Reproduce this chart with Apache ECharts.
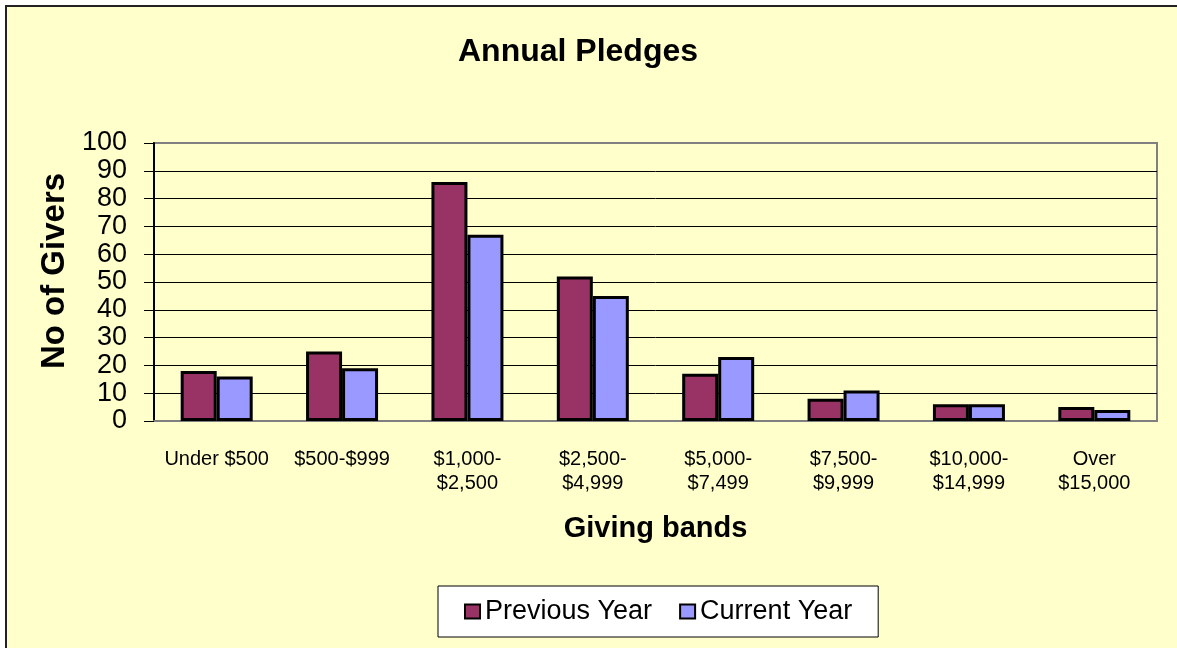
<!DOCTYPE html>
<html>
<head>
<meta charset="utf-8">
<script src="https://cdn.jsdelivr.net/npm/echarts@6/dist/echarts.min.js"></script>
<style>
  html, body { margin: 0; padding: 0; background: #fff; }
  #chart { width: 1177px; height: 648px; }
</style>
</head>
<body>
<div id="chart"></div>
<script>
const bands = ['Under $500', '$500-$999', '$1,000-\n$2,500', '$2,500-\n$4,999', '$5,000-\n$7,499',
  '$7,500-\n$9,999', '$10,000-\n$14,999', 'Over\n$15,000']
const previousYear = [18, 25, 86, 52, 17, 8, 6, 5]
const currentYear = [16, 19, 67, 45, 23, 11, 6, 4]
const yTicks = { min: 0, max: 100, step: 10 }

const font = '"Liberation Sans", Arial, sans-serif'

const chart = echarts.init(document.getElementById('chart'))

const option = {
  backgroundColor: '#fff',
  animation: false,
  textStyle: { fontFamily: font, color: '#000' },
  graphic: [
    {
      type: 'rect',
      z: -10,
      shape: { x: 6, y: 6, width: 1300, height: 800 },
      style: { fill: '#FFFFCC' }
    },
    {
      type: 'polyline',
      z: -9,
      shape: { points: [[6, 800], [6, 6], [1300, 6]] },
      style: { stroke: '#222', lineWidth: 2, fill: null }
    }
  ],
  title: {
    text: 'Annual Pledges',
    left: 453,
    top: 31,
    textStyle: { fontFamily: font, fontSize: 32, fontWeight: 'bold', color: '#000' }
  },
  legend: {
    left: 438,
    top: 586,
    padding: [12, 26],
    itemGap: 27,
    itemWidth: 15,
    itemHeight: 14,
    icon: 'rect',
    backgroundColor: '#fff',
    borderColor: '#000',
    borderWidth: 1,
    itemStyle: { borderColor: '#000', borderWidth: 2 },
    textStyle: { fontFamily: font, fontSize: 27, color: '#000' }
  },
  grid: {
    left: 154,
    right: 20,
    top: 143,
    bottom: 227,
    show: true,
    backgroundColor: '#FFFFCC',
    borderColor: '#808080',
    borderWidth: 2
  },
  xAxis: {
    type: 'category',
    data: bands,
    name: 'Giving bands',
    nameLocation: 'middle',
    nameGap: 93,
    nameTextStyle: { fontFamily: font, fontSize: 29, fontWeight: 'bold', color: '#000' },
    axisLine: { lineStyle: { color: '#808080', width: 2 } },
    axisTick: { length: 6, lineStyle: { color: '#000', width: 1 } },
    axisLabel: {
      margin: 26,
      fontSize: 20,
      lineHeight: 24,
      color: '#000',
      fontFamily: font,
      interval: 0
    },
    splitLine: { show: false }
  },
  yAxis: {
    type: 'value',
    min: yTicks.min,
    max: yTicks.max,
    interval: yTicks.step,
    name: 'No of Givers',
    nameLocation: 'middle',
    nameGap: 74,
    nameTextStyle: {
      fontFamily: font, fontSize: 33, fontWeight: 'bold', color: '#000',
      padding: [0, 0, 0, 22]
    },
    axisLine: { show: true, lineStyle: { color: '#000', width: 2 } },
    axisTick: { show: true, length: 10, lineStyle: { color: '#000', width: 1 } },
    axisLabel: { margin: 27, fontSize: 27, color: '#000', fontFamily: font },
    splitLine: {
      show: true,
      showMaxLine: false,
      lineStyle: { color: '#000', width: 1 }
    }
  },
  series: [
    {
      name: 'Previous Year',
      type: 'bar',
      data: previousYear,
      barWidth: 36,
      barGap: '0%',
      itemStyle: { color: '#993366', borderColor: '#000', borderWidth: 3 }
    },
    {
      name: 'Current Year',
      type: 'bar',
      data: currentYear,
      barWidth: 36,
      barGap: '0%',
      itemStyle: { color: '#9999FF', borderColor: '#000', borderWidth: 3 }
    }
  ]
}

chart.setOption(option)
</script>
</body>
</html>
